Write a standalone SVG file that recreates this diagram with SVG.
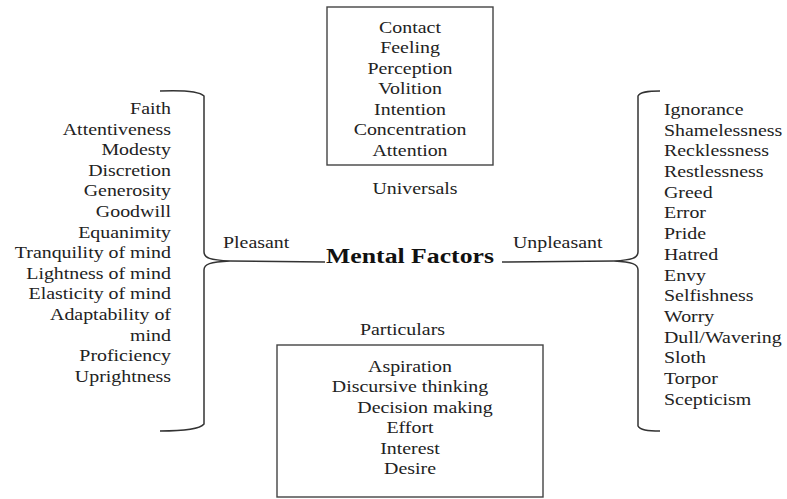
<svg xmlns="http://www.w3.org/2000/svg" width="787" height="499" viewBox="0 0 787 499" font-family="'Liberation Serif', 'Times New Roman', Times, 'DejaVu Serif', serif">
<style>
  text { font-family: 'Liberation Serif', 'Times New Roman', Times, 'DejaVu Serif', serif; font-size: 17px; fill: #222; }
  .c { text-anchor: middle; }
  .e { text-anchor: end; }
  .s { text-anchor: start; }
  .title { font-size: 22px; font-weight: bold; fill: #111; }
  .box { fill: #fff; stroke: #444; stroke-width: 1.4; }
  .ln { fill: none; stroke: #333; stroke-width: 1.5; }
</style>
<rect width="787" height="499" fill="#fff"/>

<g id="connectors">
  <path class="ln" d="M160,91 C185,90 200,92 204,96 L204,252 C204,258 210,260 230,261 C210,262 204,264 204,270 L204,424 C200,429 185,431 160,431"/>
  <path class="ln" d="M230,261 L325,262"/>
  <path class="ln" d="M660,91 C647,91 640,92 638,96 L638,252 C638,258 632,260 614,261 C632,262 638,264 638,270 L638,426 C640,430 647,431 660,431"/>
  <path class="ln" d="M502,262 L614,261"/>
</g>

<g id="center">
  <g transform="translate(410 0) scale(1.17 1)"><text class="c title" x="0" y="263">Mental Factors</text></g>
</g>

<g id="universals">
  <rect class="box" x="327" y="7" width="166" height="158"/>
  <g transform="translate(410 0) scale(1.17 1)">
    <text class="c" x="0" y="33">Contact</text>
    <text class="c" x="0" y="53.5">Feeling</text>
    <text class="c" x="0" y="74">Perception</text>
    <text class="c" x="0" y="94.5">Volition</text>
    <text class="c" x="0" y="115">Intention</text>
    <text class="c" x="0" y="135.5">Concentration</text>
    <text class="c" x="0" y="156">Attention</text>
  </g>
  <g transform="translate(415 0) scale(1.17 1)"><text class="c" x="0" y="194">Universals</text></g>
</g>

<g id="particulars">
  <g transform="translate(402.5 0) scale(1.17 1)"><text class="c" x="0" y="335">Particulars</text></g>
  <rect class="box" x="277" y="345" width="266" height="152"/>
  <g transform="translate(410 0) scale(1.17 1)">
    <text class="c" x="0" y="372">Aspiration</text>
    <text class="c" x="0" y="392.5">Discursive thinking</text>
    <text class="c" x="12.8" y="413">Decision making</text>
    <text class="c" x="0" y="433.5">Effort</text>
    <text class="c" x="0" y="454">Interest</text>
    <text class="c" x="0" y="474.5">Desire</text>
  </g>
</g>

<g id="pleasant">
  <g transform="translate(223 0) scale(1.17 1)"><text class="s" x="0" y="248">Pleasant</text></g>
  <g transform="translate(171 0) scale(1.17 1)">
    <text class="e" x="0" y="114">Faith</text>
    <text class="e" x="0" y="134.6">Attentiveness</text>
    <text class="e" x="0" y="155.2">Modesty</text>
    <text class="e" x="0" y="175.8">Discretion</text>
    <text class="e" x="0" y="196.4">Generosity</text>
    <text class="e" x="0" y="217">Goodwill</text>
    <text class="e" x="0" y="237.6">Equanimity</text>
    <text class="e" x="0" y="258.2">Tranquility of mind</text>
    <text class="e" x="0" y="278.8">Lightness of mind</text>
    <text class="e" x="0" y="299.4">Elasticity of mind</text>
    <text class="e" x="0" y="320">Adaptability of</text>
    <text class="e" x="0" y="340.6">mind</text>
    <text class="e" x="0" y="361.2">Proficiency</text>
    <text class="e" x="0" y="381.8">Uprightness</text>
  </g>
</g>

<g id="unpleasant">
  <g transform="translate(513 0) scale(1.17 1)"><text class="s" x="0" y="248">Unpleasant</text></g>
  <g transform="translate(664 0) scale(1.17 1)">
    <text class="s" x="0" y="115">Ignorance</text>
    <text class="s" x="0" y="135.7">Shamelessness</text>
    <text class="s" x="0" y="156.4">Recklessness</text>
    <text class="s" x="0" y="177.1">Restlessness</text>
    <text class="s" x="0" y="197.8">Greed</text>
    <text class="s" x="0" y="218.5">Error</text>
    <text class="s" x="0" y="239.2">Pride</text>
    <text class="s" x="0" y="259.9">Hatred</text>
    <text class="s" x="0" y="280.6">Envy</text>
    <text class="s" x="0" y="301.3">Selfishness</text>
    <text class="s" x="0" y="322">Worry</text>
    <text class="s" x="0" y="342.7">Dull/Wavering</text>
    <text class="s" x="0" y="363.4">Sloth</text>
    <text class="s" x="0" y="384.1">Torpor</text>
    <text class="s" x="0" y="404.8">Scepticism</text>
  </g>
</g>
</svg>
